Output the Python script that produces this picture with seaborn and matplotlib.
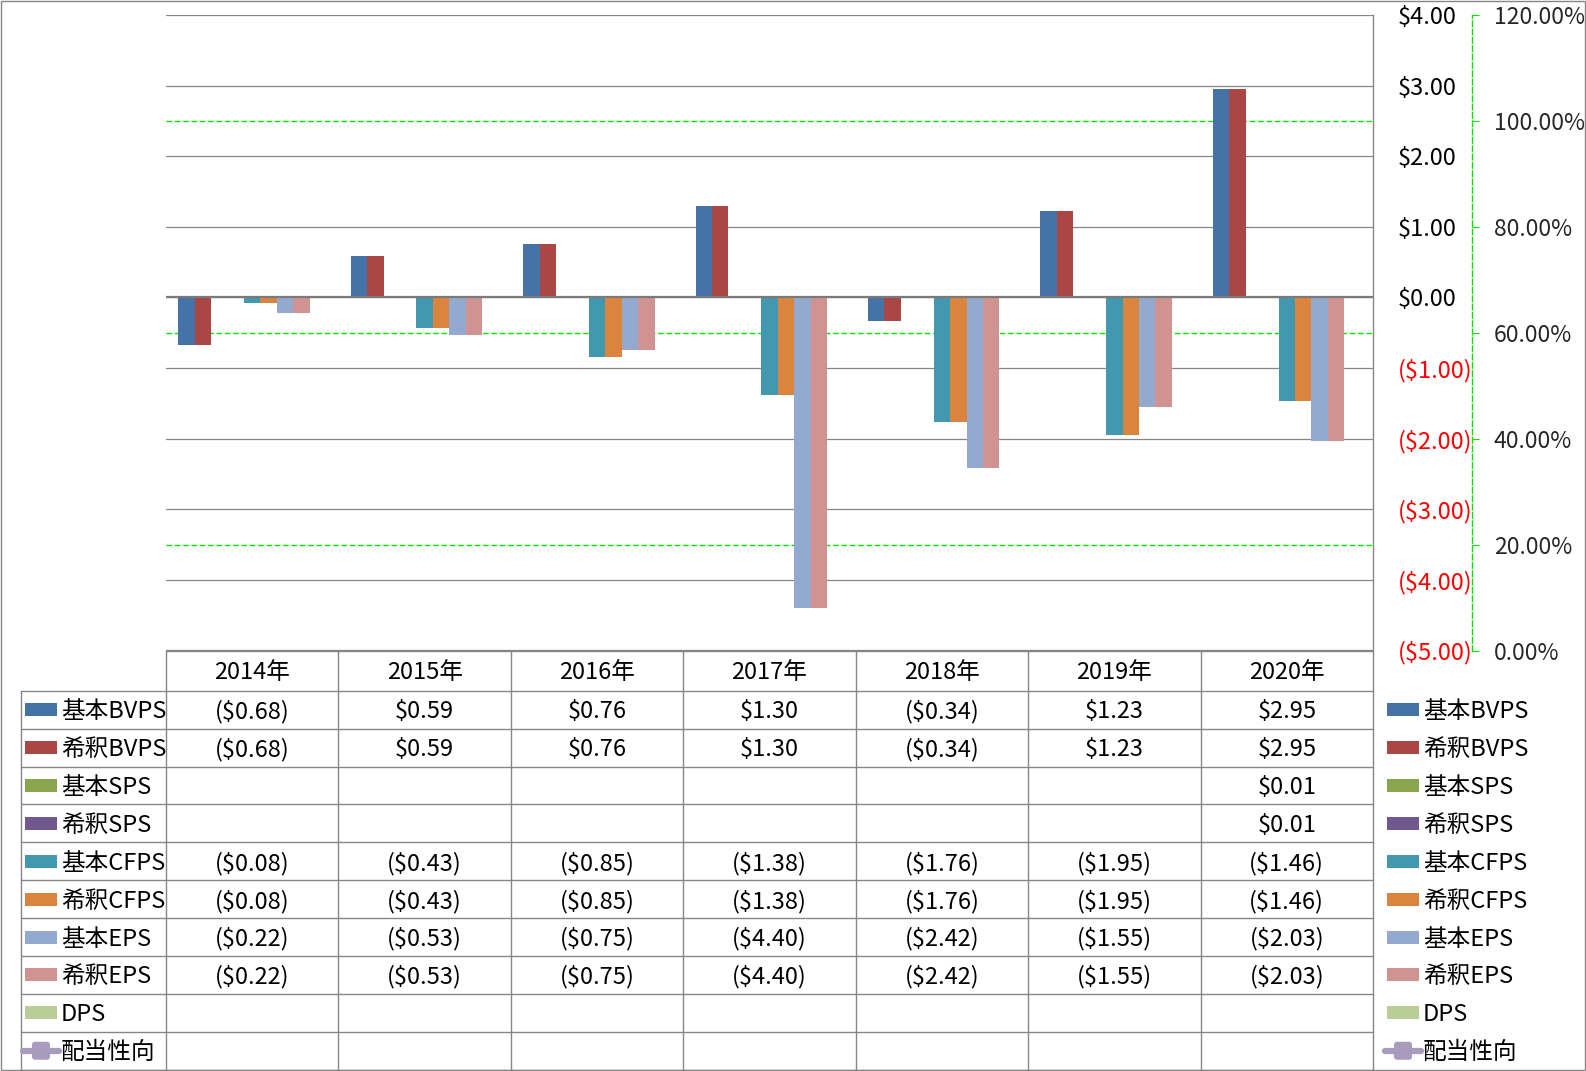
import numpy as np
import pandas as pd
import matplotlib
matplotlib.use("Agg")
import matplotlib.pyplot as plt
import seaborn as sns
from matplotlib.patches import Rectangle, FancyBboxPatch
from matplotlib.lines import Line2D

# ---------------- data ----------------
years = ["2014年", "2015年", "2016年", "2017年", "2018年", "2019年", "2020年"]
series_names = ["基本BVPS", "希釈BVPS", "基本SPS", "希釈SPS", "基本CFPS",
                "希釈CFPS", "基本EPS", "希釈EPS", "DPS"]
nan = np.nan
bvps_basic = [-0.68, 0.59, 0.76, 1.30, -0.34, 1.23, 2.95]
bvps_diluted = [-0.68, 0.59, 0.76, 1.30, -0.34, 1.23, 2.95]
sps_basic = [nan, nan, nan, nan, nan, nan, 0.01]
sps_diluted = [nan, nan, nan, nan, nan, nan, 0.01]
cfps_basic = [-0.08, -0.43, -0.85, -1.38, -1.76, -1.95, -1.46]
cfps_diluted = [-0.08, -0.43, -0.85, -1.38, -1.76, -1.95, -1.46]
eps_basic = [-0.22, -0.53, -0.75, -4.40, -2.42, -1.55, -2.03]
eps_diluted = [-0.22, -0.53, -0.75, -4.40, -2.42, -1.55, -2.03]
dps = [nan, nan, nan, nan, nan, nan, nan]
payout_name = "配当性向"
payout_ratio = [nan, nan, nan, nan, nan, nan, nan]

primary_ticks = [-5, -4, -3, -2, -1, 0, 1, 2, 3, 4]
secondary_ticks = [0, 20, 40, 60, 80, 100, 120]
secondary_grid = [20, 60, 100]

colors = ["#4572A7", "#AA4643", "#89A54E", "#71588F", "#4198AF",
          "#DB843D", "#93A9CF", "#D19392", "#B9CD96"]
payout_color = "#A99BBD"

series_values = [bvps_basic, bvps_diluted, sps_basic, sps_diluted, cfps_basic,
                 cfps_diluted, eps_basic, eps_diluted, dps]

rows = []
for name, vals in zip(series_names, series_values):
    for y, v in zip(years, vals):
        rows.append({"year": y, "series": name, "value": v})
df = pd.DataFrame(rows)

# ---------------- style ----------------
sns.set_theme(style="white")
plt.rcParams["font.family"] = ["Noto Sans CJK JP", "DejaVu Sans"]
FS = 17
GRID = "#868686"
GREEN = "#00E600"

W, H = 1586, 1071
fig = plt.figure(figsize=(W / 100, H / 100), dpi=100)
fig.patch.set_facecolor("white")


def fx(px):
    return px / W


def fy(py):
    return 1 - py / H


L, R, T, B = 166, 1373, 15, 650.5
ax = fig.add_axes([fx(L), fy(B), fx(R) - fx(L), fy(T) - fy(B)])
ax2 = ax.twinx()
ax.set_zorder(ax2.get_zorder() + 1)
ax.patch.set_visible(False)

sns.barplot(data=df, x="year", y="value", hue="series", order=years,
            hue_order=series_names, palette=colors, width=9 / 10.5,
            dodge=True, saturation=1, legend=False, linewidth=0,
            errorbar=None, ax=ax)

ax.set_ylim(-5, 4)
ax.set_xlim(-0.5, len(years) - 0.5)
ax.set_xlabel("")
ax.set_ylabel("")
ax.set_xticks([])
ax.yaxis.tick_right()
ax.set_yticks(primary_ticks)


def money(v):
    if v < 0:
        return "(${:.2f})".format(-v)
    return "${:.2f}".format(v)


ax.set_yticklabels([money(v) for v in primary_ticks])
ax.tick_params(axis="y", length=0, pad=18, labelsize=FS)
for lab, v in zip(ax.get_yticklabels(), primary_ticks):
    lab.set_color("red" if v < 0 else "black")
ax.grid(axis="y", color=GRID, lw=0.9)
ax.set_axisbelow(True)
ax.axhline(0, color="#7a7a7a", lw=1.6, zorder=1)
for s in ["left", "top", "bottom"]:
    ax.spines[s].set_visible(False)
ax.spines["right"].set_color(GRID)
ax.spines["right"].set_linewidth(1.0)

# secondary axis (percent)
ax2.set_ylim(0, 120)
ax2.set_yticks(secondary_ticks)
ax2.set_yticklabels(["{:.2f}%".format(v) for v in secondary_ticks])
ax2.tick_params(axis="y", which="major", direction="out", length=5,
                width=0.8, color=GREEN, pad=11, labelsize=16.5)
ax2.grid(False)
for gv in secondary_grid:
    ax2.axhline(gv, color=GREEN, ls=(0, (4, 2)), lw=1.0)
for s in ["left", "top", "bottom"]:
    ax2.spines[s].set_visible(False)
ax2.spines["right"].set_position(("outward", 71))
ax2.spines["right"].set_color(GREEN)
ax2.spines["right"].set_linestyle((0, (4, 2)))
ax2.spines["right"].set_linewidth(1.0)
ax2.plot(range(len(years)), payout_ratio, color=payout_color, lw=3, marker="s")

# ---------------- data table ----------------
ov = fig.add_axes([0, 0, 1, 1])
ov.set_xlim(0, W)
ov.set_ylim(H, 0)
ov.axis("off")
ov.patch.set_visible(False)
ov.set_zorder(10)

head_top, head_bot = 650.5, 690.7
row_h = (1069.7 - head_bot) / 10
key_left = 20.7
colw = (R - L) / len(years)
TY = 2.0  # small baseline adjust


def hline(y, x0, x1):
    ov.add_line(Line2D([x0, x1], [y, y], color=GRID, lw=1.0))


def vline(x, y0, y1):
    ov.add_line(Line2D([x, x], [y0, y1], color=GRID, lw=1.0))


hline(head_top, L, R)
for i in range(11):
    hline(head_bot + i * row_h, key_left, R)
vline(key_left, head_bot, 1069.7)
for i in range(len(years) + 1):
    vline(L + i * colw, head_top, 1069.7)

for i, y in enumerate(years):
    ov.text(L + (i + 0.5) * colw, (head_top + head_bot) / 2 + TY, y,
            ha="center", va="center", fontsize=FS, color="black")

table_names = series_names + [payout_name]
table_vals = series_values + [payout_ratio]
table_colors = colors + [payout_color]

for r, (name, vals, c) in enumerate(zip(table_names, table_vals, table_colors)):
    yc = head_bot + (r + 0.5) * row_h
    for i, v in enumerate(vals):
        if not np.isnan(v):
            ov.text(L + (i + 0.5) * colw, yc + TY, money(v), ha="center",
                    va="center", fontsize=FS, color="black")
    for kx0, tx in [(25, 61), (1387, 1423)]:
        if name == payout_name:
            ov.add_line(Line2D([kx0 - 2, kx0 + 34], [yc, yc], color=c, lw=4.5,
                               solid_capstyle="round"))
            ov.add_patch(FancyBboxPatch((kx0 + 7, yc - 9), 18, 18,
                                        boxstyle="round,pad=0,rounding_size=3",
                                        color=c, lw=0))
        else:
            ov.add_patch(Rectangle((kx0, yc - 6.5), 32, 13, color=c, lw=0))
        ov.text(tx, yc + TY, name, ha="left", va="center", fontsize=FS,
                color="black")

# outer border
ov.add_patch(Rectangle((0.5, 0.5), W - 1.5, H - 1.5, fill=False,
                       edgecolor=GRID, lw=1.0))

fig.savefig("out.png", dpi=100, facecolor="white")
